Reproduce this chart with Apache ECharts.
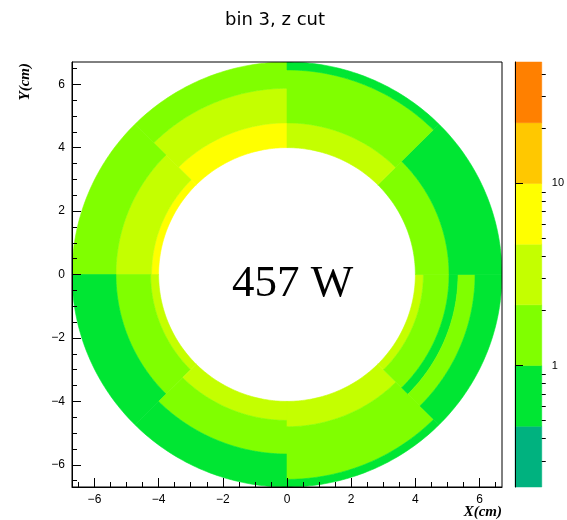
<!DOCTYPE html>
<html>
<head>
<meta charset="utf-8">
<script src="https://cdn.jsdelivr.net/npm/echarts@6/dist/echarts.min.js"></script>
<style>
html,body{margin:0;padding:0;background:#fff;}
#chart{width:567px;height:520px;}
</style>
</head>
<body>
<div id="chart"></div>
<script>
// ---- bin geometry (cm, degrees) and contents ----
const rInner   = [4.00, 4.78, 5.87,  4.00, 4.22, 5.33,  4.00, 4.25, 5.33,  4.00, 4.60, 5.66,  4.00, 4.80, 6.46,  4.00, 4.25, 5.05, 5.33, 5.86,  4.00, 5.05,  4.00, 4.78, 6.45];
const rOuter   = [4.78, 5.87, 6.70,  4.22, 5.33, 6.70,  4.25, 5.33, 6.70,  4.60, 5.66, 6.70,  4.80, 6.46, 6.70,  4.25, 5.05, 5.33, 5.86, 6.70,  5.05, 6.70,  4.78, 6.45, 6.70];
const phiStart = [90, 90, 90,  135, 135, 135,  180, 180, 180,  225, 225, 225,  270, 270, 270,  315, 315, 315, 315, 315,  0, 0,  45, 45, 45];
const phiEnd   = [135, 135, 135,  180, 180, 180,  225, 225, 225,  270, 270, 270,  315, 315, 315,  360, 360, 360, 360, 360,  45, 45,  90, 90, 90];
const binValues= [6.5, 3.2, 1.5,  6.3, 3.1, 1.6,  3.0, 1.5, 0.72,  3.1, 1.5, 0.70,  3.2, 1.5, 0.68,  3.0, 1.5, 0.70, 1.4, 0.71,  1.5, 0.70,  3.1, 1.5, 0.69];

// ---- axes ----
const xMajorTicks = [-6, -4, -2, 0, 2, 4, 6];
const xMinorTicks = [-6.5, -5.5, -5, -4.5, -3.5, -3, -2.5, -1.5, -1, -0.5, 0.5, 1, 1.5, 2.5, 3, 3.5, 4.5, 5, 5.5, 6.5];
const yMajorTicks = [-6, -4, -2, 0, 2, 4, 6];
const yMinorTicks = [-6.5, -5.5, -5, -4.5, -3.5, -3, -2.5, -1.5, -1, -0.5, 0.5, 1, 1.5, 2.5, 3, 3.5, 4.5, 5, 5.5, 6.5];

// ---- colour palette (log z) ----
const zLevels = [0.2154, 0.4642, 1, 2.154, 4.642, 10, 21.54, 46.42];
const zColors = ['#00b27f', '#00e633', '#80ff00', '#c4ff00', '#ffff00', '#ffc800', '#ff8000'];
const zMajorTicks = [1, 10];
const zMinorTicks = [0.3, 0.4, 0.5, 0.6, 0.7, 0.8, 0.9, 2, 3, 4, 5, 6, 7, 8, 9, 20, 30, 40];

const titleText = 'bin 3, z cut';
const centerText = '457 W';

const chart = echarts.init(document.getElementById('chart'), null, {renderer: 'canvas'});

const fmtMinus = v => String(v).replace('-', '\u2212');
const axisFont = {fontFamily: 'Liberation Sans, Arial, sans-serif', fontSize: 12, color: '#000'};

const sectorData = rInner.map((r, i) => [r, rOuter[i], phiStart[i], phiEnd[i], binValues[i]]);
const bandData = zColors.map((c, i) => [zLevels[i], zLevels[i + 1], i]);

function renderSector(params, api) {
  const r0 = api.value(0), r1 = api.value(1), a0 = api.value(2), a1 = api.value(3);
  const n = Math.max(4, Math.ceil(Math.abs(a1 - a0)));
  const pts = [];
  for (let i = 0; i <= n; i++) {
    const a = (a0 + (a1 - a0) * i / n) * Math.PI / 180;
    pts.push(api.coord([r1 * Math.cos(a), r1 * Math.sin(a)]));
  }
  for (let i = n; i >= 0; i--) {
    const a = (a0 + (a1 - a0) * i / n) * Math.PI / 180;
    pts.push(api.coord([r0 * Math.cos(a), r0 * Math.sin(a)]));
  }
  const color = api.visual('color');
  return {type: 'polygon', shape: {points: pts}, style: {fill: color, stroke: color, lineWidth: 0.6}};
}

function renderBand(params, api) {
  const lo = api.value(0), hi = api.value(1);
  const p1 = api.coord([0, hi]);
  const p2 = api.coord([1, lo]);
  const color = zColors[api.value(2)];
  return {type: 'rect', shape: {x: p1[0], y: p1[1], width: p2[0] - p1[0], height: p2[1] - p1[1]},
          style: {fill: color, stroke: color, lineWidth: 0.5}};
}

const option = {
  animation: false,
  backgroundColor: '#fff',
  grid: [
    {left: 72, top: 62, width: 430, height: 425, show: true, z: 10, borderColor: '#000', borderWidth: 1, backgroundColor: 'transparent'},
    {left: 515, top: 62, width: 27, height: 425}
  ],
  xAxis: [
    {gridIndex: 0, type: 'value', min: -6.7, max: 6.7, position: 'bottom', z: 10,
     axisLine: {show: true, onZero: false, lineStyle: {color: '#000', width: 1}},
     axisTick: {show: true, inside: true, length: 9, customValues: xMajorTicks, lineStyle: {color: '#000'}},
     axisLabel: {show: true, customValues: xMajorTicks, formatter: fmtMinus, margin: 7, ...axisFont},
     splitLine: {show: false}},
    {gridIndex: 0, type: 'value', min: -6.7, max: 6.7, position: 'bottom', z: 10,
     axisLine: {show: false, onZero: false},
     axisTick: {show: true, inside: true, length: 5, customValues: xMinorTicks, lineStyle: {color: '#000'}},
     axisLabel: {show: false}, splitLine: {show: false}},
    {gridIndex: 1, type: 'value', min: 0, max: 1, show: false}
  ],
  yAxis: [
    {gridIndex: 0, type: 'value', min: -6.7, max: 6.7, position: 'left', z: 10,
     axisLine: {show: true, onZero: false, lineStyle: {color: '#000', width: 1}},
     axisTick: {show: true, inside: true, length: 9, customValues: yMajorTicks, lineStyle: {color: '#000'}},
     axisLabel: {show: true, customValues: yMajorTicks, formatter: fmtMinus, margin: 7, ...axisFont},
     splitLine: {show: false}},
    {gridIndex: 0, type: 'value', min: -6.7, max: 6.7, position: 'left', z: 10,
     axisLine: {show: false, onZero: false},
     axisTick: {show: true, inside: true, length: 5, customValues: yMinorTicks, lineStyle: {color: '#000'}},
     axisLabel: {show: false}, splitLine: {show: false}},
    {gridIndex: 1, type: 'log', logBase: 10, min: zLevels[0], max: zLevels[zLevels.length - 1], position: 'right', z: 10,
     axisLine: {show: true, lineStyle: {color: '#000', width: 1}},
     axisTick: {show: true, inside: false, length: 8, customValues: zMajorTicks, lineStyle: {color: '#000'}},
     axisLabel: {show: true, customValues: zMajorTicks, margin: 10, fontFamily: 'Liberation Sans, Arial, sans-serif', fontSize: 11, color: '#000'},
     splitLine: {show: false}},
    {gridIndex: 1, type: 'log', logBase: 10, min: zLevels[0], max: zLevels[zLevels.length - 1], position: 'right', z: 10,
     axisLine: {show: false},
     axisTick: {show: true, inside: false, length: 4, customValues: zMinorTicks, lineStyle: {color: '#000'}},
     axisLabel: {show: false}, splitLine: {show: false}}
  ],
  visualMap: {
    type: 'piecewise', show: false, seriesIndex: 0, dimension: 4,
    pieces: zColors.map((c, i) => ({gte: zLevels[i], lt: zLevels[i + 1], color: c}))
  },
  series: [
    {type: 'custom', xAxisIndex: 0, yAxisIndex: 0, renderItem: renderSector,
     dimensions: ['rin', 'rout', 'phi0', 'phi1', 'z'], encode: {x: 0, y: 1},
     data: sectorData, clip: true, silent: true},
    {type: 'custom', xAxisIndex: 2, yAxisIndex: 2, renderItem: renderBand,
     encode: {y: [0, 1]}, data: bandData, silent: true}
  ],
  graphic: [
    {type: 'text', x: 275, y: 20, style: {text: titleText, fill: '#000', font: '18px "DejaVu Sans"', textAlign: 'center', textVerticalAlign: 'middle'}},
    {type: 'text', x: 292.5, y: 284, z: 100, style: {text: centerText, fill: '#000', font: '45px "Liberation Serif"', textAlign: 'center', textVerticalAlign: 'middle'}},
    {type: 'text', x: 502, y: 512, style: {text: 'X(cm)', fill: '#000', font: 'italic bold 15px "Liberation Serif"', textAlign: 'right', textVerticalAlign: 'middle'}},
    {type: 'text', x: 25, y: 63, rotation: Math.PI / 2, style: {text: 'Y(cm)', fill: '#000', font: 'italic bold 15px "Liberation Serif"', textAlign: 'right', textVerticalAlign: 'middle'}}
  ]
};
chart.setOption(option);
</script>
</body>
</html>
